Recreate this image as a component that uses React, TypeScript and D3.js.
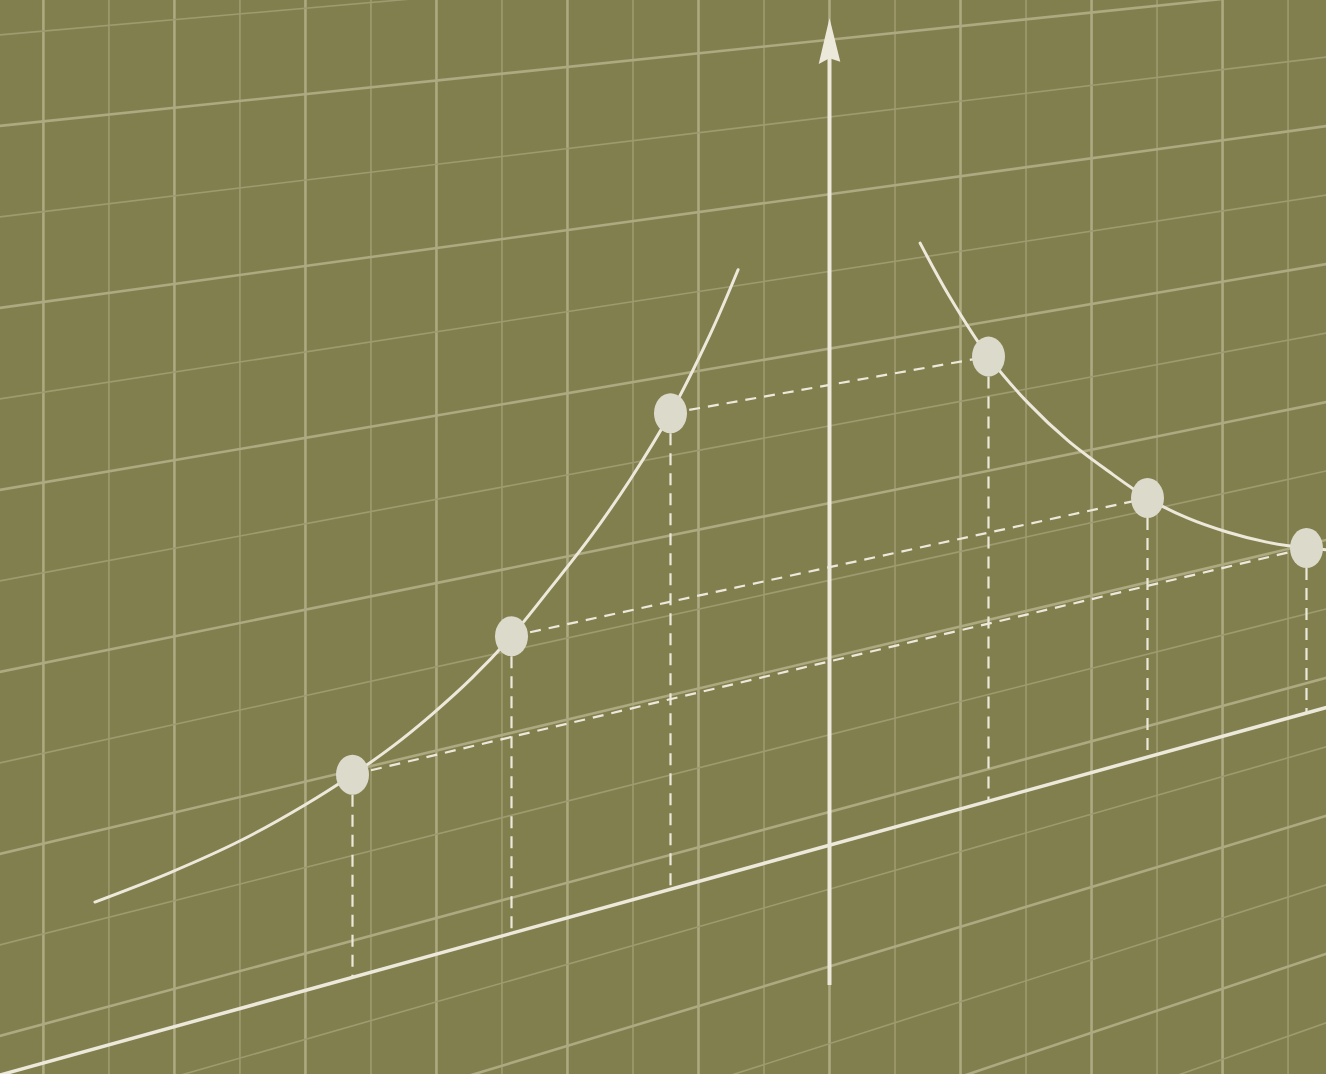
import { useEffect, useRef } from 'react';
import * as d3 from 'd3';

const W = 1326;
const H = 1074;

// left branch of the curve (u < 0)
const leftU = [-4.62, -4.15, -3.7, -3.3, -3, -2.75, -2.5, -2.25, -2, -1.75, -1.5, -1.25, -1, -0.75, -0.575];
const leftV = [1.64, 1.76, 1.93, 2.16, 2.38, 2.6, 2.875, 3.2, 3.6, 4.095, 4.62, 5.235, 5.96, 6.87, 7.63];

// right branch (u > 0)
const rightU = [0.57, 0.75, 1, 1.25, 1.5, 1.75, 2, 2.25, 2.5, 2.75, 3, 3.15];
const rightV = [7.62, 6.87, 5.96, 5.235, 4.62, 4.095, 3.6, 3.2, 2.875, 2.6, 2.38, 2.27];

// marked points, joined in pairs by dashed lines
const dotU = [-3, -2, -1, 1, 2, 3];
const dotV = [2.38, 3.6, 5.96, 5.96, 3.6, 2.38];

// background paper grid (grid steps in chart units)
const gridColStep = 0.412;
const gridCols = d3.range(-12, 8);
const gridRows = d3.range(-6, 12);
const gridRowOffset = 0.43;

// y axis extent
const axisBottomV = -1.81;
const axisTopV = 10.71;

const colors = {
  bg: '#827f4f',
  gridThick: '#ada981',
  gridThin: '#9e9b70',
  ink: '#ece9db',
  dot: '#dcdacb',
};

// vanishing point of the horizontal lines
const VX = 5479;
const VY = -443;

export default function App() {
  const ref = useRef<SVGSVGElement>(null);

  useEffect(() => {
    const svg = d3.select(ref.current);
    svg.selectAll('*').remove();

    const x = d3.scaleLinear().domain([0, 1]).range([829.5, 988.5]);
    const c = d3.scaleLinear().domain([0, 1]).range([1075, 984]);
    const project = (u: number, v: number): [number, number] => {
      const px = x(u);
      const cy = c(v);
      return [px, cy + ((VY - cy) * px) / VX];
    };
    const uL = x.invert(-20);
    const uR = x.invert(W + 20);

    svg.append('rect').attr('width', W).attr('height', H).attr('fill', colors.bg);

    // grid: vertical lines
    const grid = svg.append('g').attr('class', 'grid');
    grid
      .selectAll('line.col')
      .data(gridCols)
      .enter()
      .append('line')
      .attr('class', 'col')
      .attr('x1', k => x(k * gridColStep))
      .attr('x2', k => x(k * gridColStep))
      .attr('y1', -5)
      .attr('y2', H + 5)
      .attr('stroke', k => (k % 2 === 0 ? colors.gridThick : colors.gridThin))
      .attr('stroke-width', k => (k % 2 === 0 ? 2.6 : 1.6));

    // grid: slanted rows
    grid
      .selectAll('line.row')
      .data(gridRows)
      .enter()
      .append('line')
      .attr('class', 'row')
      .each(function (m) {
        const v = m + gridRowOffset;
        const [x1, y1] = project(uL, v);
        const [x2, y2] = project(uR, v);
        d3.select(this)
          .attr('x1', x1)
          .attr('y1', y1)
          .attr('x2', x2)
          .attr('y2', y2)
          .attr('stroke', m % 2 === 0 ? colors.gridThick : colors.gridThin)
          .attr('stroke-width', m % 2 === 0 ? 2.6 : 1.6);
      });

    // x axis (base line)
    const [bx1, by1] = project(uL, 0);
    const [bx2, by2] = project(uR, 0);
    svg
      .append('line')
      .attr('x1', bx1)
      .attr('y1', by1)
      .attr('x2', bx2)
      .attr('y2', by2)
      .attr('stroke', colors.ink)
      .attr('stroke-width', 3.5);

    // y axis with arrow
    const [ax, ay1] = project(0, axisBottomV);
    const [, ay2] = project(0, axisTopV - 0.45);
    svg
      .append('line')
      .attr('x1', ax)
      .attr('y1', ay1)
      .attr('x2', ax)
      .attr('y2', ay2)
      .attr('stroke', colors.ink)
      .attr('stroke-width', 4);
    const tip = project(0, axisTopV);
    const baseL = project(-0.068, axisTopV - 0.58);
    const notch = project(0, axisTopV - 0.52);
    const baseR = project(0.068, axisTopV - 0.58);
    svg
      .append('path')
      .attr('d', `M${tip}L${baseR}L${notch}L${baseL}Z`)
      .attr('fill', colors.ink);

    // dashed drops to the base line
    const dots = dotU.map((u, i) => ({ u, v: dotV[i] }));
    svg
      .selectAll('line.drop')
      .data(dots)
      .enter()
      .append('line')
      .attr('class', 'drop')
      .each(function (d) {
        const [x1, y1] = project(d.u, d.v);
        const [, y2] = project(d.u, 0);
        d3.select(this)
          .attr('x1', x1)
          .attr('y1', y1)
          .attr('x2', x1)
          .attr('y2', y2);
      })
      .attr('stroke', colors.ink)
      .attr('stroke-width', 2.2)
      .attr('stroke-dasharray', '12 8');

    // dashed connectors between paired dots
    const pairs = d3.range(dots.length / 2).map(i => [dots[i], dots[dots.length - 1 - i]]);
    svg
      .selectAll('line.pair')
      .data(pairs)
      .enter()
      .append('line')
      .attr('class', 'pair')
      .each(function (p) {
        const [x1, y1] = project(p[0].u, p[0].v);
        const [x2, y2] = project(p[1].u, p[1].v);
        d3.select(this).attr('x1', x1).attr('y1', y1).attr('x2', x2).attr('y2', y2);
      })
      .attr('stroke', colors.ink)
      .attr('stroke-width', 2.2)
      .attr('stroke-dasharray', '11 8');

    // curve branches
    const line = d3.line<[number, number]>().curve(d3.curveCatmullRom.alpha(0.5));
    const branches = [
      leftU.map((u, i) => project(u, leftV[i])),
      rightU.map((u, i) => project(u, rightV[i])),
    ];
    svg
      .selectAll('path.branch')
      .data(branches)
      .enter()
      .append('path')
      .attr('class', 'branch')
      .attr('d', d => line(d))
      .attr('fill', 'none')
      .attr('stroke', colors.ink)
      .attr('stroke-width', 3)
      .attr('stroke-linecap', 'round');

    // dots
    svg
      .selectAll('ellipse.dot')
      .data(dots)
      .enter()
      .append('ellipse')
      .attr('class', 'dot')
      .attr('cx', d => project(d.u, d.v)[0])
      .attr('cy', d => project(d.u, d.v)[1])
      .attr('rx', 16.5)
      .attr('ry', 20)
      .attr('fill', colors.dot);
  }, []);

  return (
    <div style={{ position: 'fixed', left: 0, top: 0, width: W, height: H, overflow: 'hidden' }}>
      <svg ref={ref} width={W} height={H} style={{ display: 'block' }} />
    </div>
  );
}
